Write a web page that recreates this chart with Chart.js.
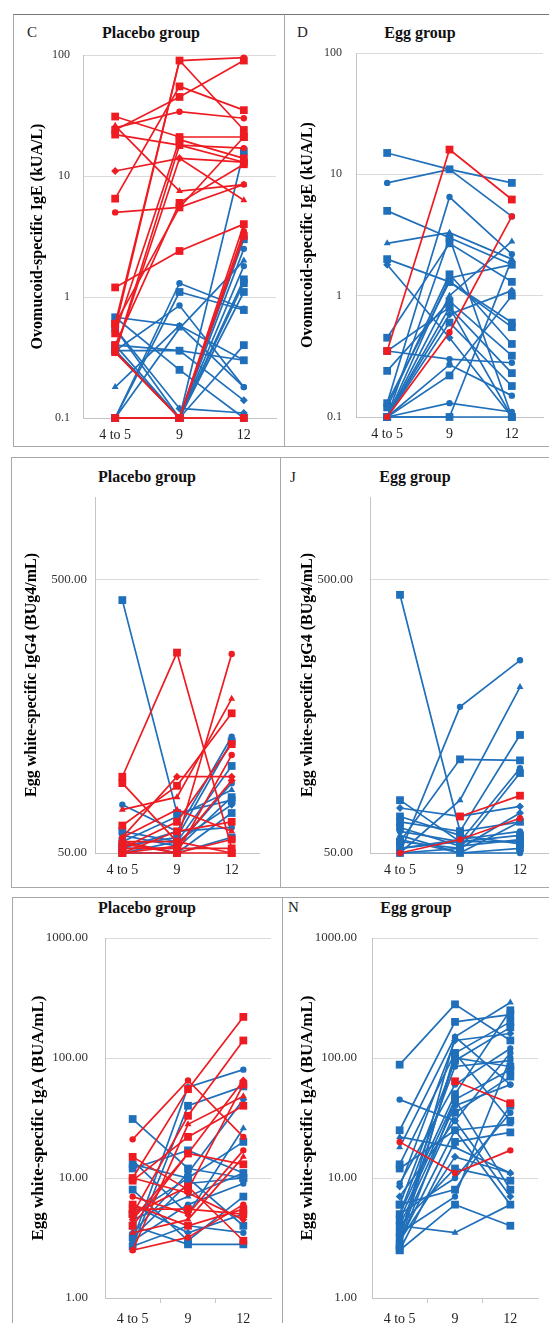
<!DOCTYPE html>
<html>
<head>
<meta charset="utf-8">
<script src="https://cdn.jsdelivr.net/npm/chart.js@4.4.1/dist/chart.umd.min.js"></script>
<style>
  body { margin: 0; width: 549px; height: 1323px; overflow: hidden; background: #fff; position: relative; font-family: 'Liberation Serif', serif; }
  .frame { position: absolute; border: 1.5px solid #a8a8a8; box-sizing: border-box; }
  .letter { position: absolute; font-size: 15px; color: #222; line-height: 1; }
  .ttl { position: absolute; font-size: 16px; font-weight: bold; color: #111; line-height: 1; transform: translateX(-50%); white-space: nowrap; }
  canvas { position: absolute; }
</style>
</head>
<body>

<!-- frames -->
<div class="frame" style="left:13px;top:14px;width:272px;height:433px;border-top-color:#777"></div>
<div class="frame" style="left:284px;top:14px;width:280px;height:433px;border-top-color:#777"></div>
<div class="frame" style="left:11px;top:457px;width:270px;height:431px"></div>
<div class="frame" style="left:280px;top:457px;width:290px;height:431px"></div>
<div class="frame" style="left:12px;top:897px;width:271px;height:500px"></div>
<div class="frame" style="left:282px;top:897px;width:290px;height:500px"></div>

<!-- panel letters and titles -->
<div class="letter" style="left:27px;top:25px">C</div>
<div class="ttl" style="left:151px;top:25px">Placebo group</div>
<div class="letter" style="left:297px;top:25px">D</div>
<div class="ttl" style="left:420px;top:25px">Egg group</div>

<div class="ttl" style="left:147px;top:469px">Placebo group</div>
<div class="letter" style="left:290px;top:470px">J</div>
<div class="ttl" style="left:415px;top:469px">Egg group</div>

<div class="ttl" style="left:147px;top:900px">Placebo group</div>
<div class="letter" style="left:288px;top:900px">N</div>
<div class="ttl" style="left:416px;top:900px">Egg group</div>

<!-- plot top = canvas top + 26 -->
<canvas id="chartC" width="270" height="416" style="left:14px;top:29px"></canvas>
<canvas id="chartD" width="264" height="418" style="left:285px;top:27px"></canvas>
<canvas id="chartI" width="268" height="414" style="left:12px;top:471px"></canvas>
<canvas id="chartJ" width="270" height="414" style="left:281px;top:471px"></canvas>
<canvas id="chartM" width="269" height="411" style="left:13px;top:912px"></canvas>
<canvas id="chartN" width="266" height="411" style="left:283px;top:912px"></canvas>

<script>
// x categories (age, years)
const categories = ['4 to 5', '9', '12'];

// y tick values / labels
const igeTicks = [0.1, 1, 10, 100];
const igeTickLabels = ['0.1', '1', '10', '100'];
const igg4Ticks = [50, 500];
const igg4TickLabels = ['50.00', '500.00'];
const igaTicks = [1, 10, 100, 1000];
const igaTickLabels = ['1.00', '10.00', '100.00', '1000.00'];

// one row = one child: [4 to 5, 9, 12]
// Ovomucoid-specific IgE, placebo group
const igePlaceboRed = [
  [31, 21, 21], [25, 34, 30], [22, 18, 13], [26, 7.5, 8.5], [24, 45, 90],
  [11, 14, 13], [6.5, 55, 35], [5, 5.5, 8.5], [1.2, 2.4, 4], [0.55, 90, 95],
  [0.6, 90, 24], [0.35, 14, 6.3], [0.4, 6, 12.5], [0.35, 0.1, 0.1], [0.1, 0.1, 0.1],
  [0.35, 18, 17], [0.5, 20, 14], [0.1, 0.1, 3.5], [0.35, 0.1, 3.2], [0.1, 0.1, 4],
  [0.6, 5.5, 21]
];
const igePlaceboBlue = [
  [0.36, 0.1, 16], [0.1, 1.3, 0.8], [0.1, 1.1, 0.78], [0.18, 0.58, 0.3], [0.68, 0.25, 0.1],
  [0.55, 0.12, 0.11], [0.36, 0.36, 0.3], [0.36, 0.85, 0.18], [0.4, 0.1, 3], [0.36, 0.1, 2.5],
  [0.1, 0.1, 1.4], [0.1, 0.55, 2], [0.36, 0.1, 1.1], [0.4, 0.36, 0.14], [0.1, 0.1, 0.4],
  [0.36, 0.1, 1.8], [0.55, 0.1, 1.3], [0.68, 0.58, 0.18]
];

// Ovomucoid-specific IgE, egg group
const igeEggRed = [[0.35, 16, 6.2], [0.1, 0.5, 4.5]];
const igeEggBlue = [
  [15, 11, 8.5], [8.5, 11, 4.5], [5, 3, 1.8], [2.7, 3.3, 2], [2, 1.3, 0.6],
  [1.8, 0.45, 0.1], [0.45, 2.7, 1.3], [0.35, 0.3, 0.28], [0.24, 0.9, 0.32], [0.13, 6.5, 2.2],
  [0.12, 1.5, 0.4], [0.1, 1.0, 2.8], [0.1, 0.8, 0.23], [0.1, 0.7, 1.1], [0.1, 0.6, 0.18],
  [0.1, 0.27, 0.15], [0.1, 0.22, 1.0], [0.1, 0.13, 0.11], [0.1, 0.1, 0.1], [0.1, 0.1, 2.0],
  [0.13, 1.3, 0.55], [0.1, 3, 0.1], [0.35, 0.8, 0.1], [0.1, 1.4, 1.8]
];

// Egg white-specific IgG4, placebo group
const igg4PlaceboRed = [
  [95, 270, 52], [55, 55, 267], [90, 55, 50], [72, 80, 183], [63, 88, 162],
  [57, 95, 95], [52, 65, 125], [55, 50, 114], [50, 60, 65], [52, 52, 52],
  [50, 50, 50], [57, 72, 60], [54, 50, 56], [50, 53, 92]
];
const igg4PlaceboBlue = [
  [420, 70, 78], [75, 60, 133], [60, 55, 104], [55, 68, 85], [52, 52, 80],
  [50, 55, 75], [55, 50, 70], [52, 60, 62], [50, 50, 57], [58, 53, 90],
  [53, 57, 128]
];

// Egg white-specific IgG4, egg group
const igg4EggRed = [[null, 68, 81], [50, 56, 67]];
const igg4EggBlue = [
  [439, 60, 65], [50, 171, 253], [55, 110, 109], [50, 78, 202], [78, 55, 55],
  [73, 68, 74], [65, 60, 135], [60, 55, 102], [55, 52, 98], [52, 56, 60],
  [50, 50, 52], [58, 50, 65], [52, 55, 58], [50, 52, 70], [62, 53, 56],
  [56, 50, 50], [68, 58, 54]
];

// Egg white-specific IgA, placebo group
const igaPlaceboRed = [
  [10, 55, 220], [21, 65, 22], [5, 33, 140], [2.5, 28, 48], [15, 8, 60],
  [4.5, 16, 65], [9.5, 22, 40], [7, 5, 17], [4, 16, 13], [2.5, 3.2, 6],
  [5, 8.5, 3], [3.5, 4.5, 15], [6, 4, 5.5], [10, 7.5, 4.5], [5.5, 5.5, 5]
];
const igaPlaceboBlue = [
  [31, 12, 10], [3, 57, 80], [2.7, 40, 58], [14, 5, 26], [12, 17, 11],
  [3.5, 11, 45], [4, 2.8, 2.8], [3, 6, 9], [5, 10, 4], [2.7, 4, 3.5],
  [8, 3, 7], [4.5, 7, 11], [3.2, 9, 10], [6, 3.5, 5], [13, 10, 20]
];

// Egg white-specific IgA, egg group
const igaEggRed = [[null, 64, 42], [20, 11, 17]];
const igaEggBlue = [
  [88, 280, 140], [45, 30, 110], [25, 200, 230], [18, 150, 290], [13, 110, 200],
  [8.5, 140, 160], [6, 95, 180], [5, 85, 95], [4.5, 45, 80], [4, 40, 60],
  [3.5, 35, 70], [3, 25, 28], [2.5, 20, 24], [3, 15, 11], [4, 12, 9.5],
  [5, 10, 35], [6, 8, 40], [3.5, 7, 100], [2.5, 6, 4], [4, 3.5, 6],
  [2.8, 45, 8], [7, 30, 7], [5, 50, 250], [3, 150, 60], [2.7, 110, 30],
  [9, 60, 120], [12, 25, 6], [22, 18, 11], [3.2, 100, 85]
];

const RED = '#ee1c22';
const BLUE = '#1f6fba';
const FONT = "'Liberation Serif', 'Times New Roman', serif";
const shapes = ['rect', 'circle', 'rect', 'triangle', 'rect', 'rectRot', 'rect', 'circle'];
const shapeRadius = { rect: 5.5, circle: 3.2, triangle: 4, rectRot: 4 };

function buildDatasets(rows, color) {
  return rows.map(function (vals, i) {
    var shape = shapes[i % shapes.length];
    return {
      data: vals.map(function (v, j) { return { x: j, y: v }; }),
      borderColor: color,
      backgroundColor: color,
      borderWidth: 1.7,
      tension: 0,
      pointStyle: shape,
      pointRadius: shapeRadius[shape],
      pointBorderWidth: 0,
      clip: false
    };
  });
}

function makePanel(id, c) {
  var xTickValues = c.boundaryTicks ? [0, 0.5, 1, 1.5, 2] : [0, 1, 2];
  new Chart(document.getElementById(id), {
    type: 'line',
    data: { datasets: buildDatasets(c.red, RED).concat(buildDatasets(c.blue, BLUE)) },
    options: {
      responsive: false,
      animation: false,
      layout: { autoPadding: false, padding: { top: 26, right: c.padRight, left: 0, bottom: 0 } },
      plugins: { legend: { display: false }, tooltip: { enabled: false } },
      scales: {
        x: {
          type: 'linear', min: -0.5, max: 2.5,
          afterBuildTicks: function (s) { s.ticks = xTickValues.map(function (v) { return { value: v }; }); },
          afterFit: function (s) { s.height = c.xH; },
          ticks: {
            autoSkip: false, maxRotation: 0, padding: c.xPad, color: '#222',
            font: { family: FONT, size: 14 },
            callback: function (v) { return Number.isInteger(v) ? categories[v] : ''; }
          },
          grid: {
            drawOnChartArea: false, drawTicks: !!c.boundaryTicks, tickLength: 5,
            color: function (ctx) { return ctx.tick && ctx.tick.value % 1 !== 0 ? '#c8c8c8' : 'rgba(0,0,0,0)'; }
          },
          border: { color: '#c4c4c4', width: 1 }
        },
        y: {
          type: 'logarithmic', min: c.min, max: c.max,
          afterBuildTicks: function (s) { s.ticks = c.ticks.map(function (v) { return { value: v }; }); },
          afterFit: function (s) { s.width = c.yW; },
          ticks: {
            padding: c.tickPad, color: '#333',
            font: { family: FONT, size: c.tickSize },
            callback: function (v, i) { return c.tickLabels[i]; }
          },
          grid: { color: '#dadada', drawTicks: false },
          border: { color: '#c4c4c4', width: 1 },
          title: {
            display: true, text: c.yTitle, color: '#000',
            font: { family: FONT, size: c.titleSize, weight: 'bold' },
            padding: { top: c.titlePad, bottom: 0 }
          }
        }
      }
    }
  });
}

makePanel('chartC', {
  red: igePlaceboRed, blue: igePlaceboBlue, ticks: igeTicks, tickLabels: igeTickLabels,
  min: 0.1, max: 100, yTitle: 'Ovomucoid-specific IgE (kUA/L)',
  yW: 69, xH: 27, padRight: 8, tickPad: 13, tickSize: 12, xPad: 9, titleSize: 16, titlePad: 14
});
makePanel('chartD', {
  red: igeEggRed, blue: igeEggBlue, ticks: igeTicks, tickLabels: igeTickLabels,
  min: 0.1, max: 100, yTitle: 'Ovomucoid-specific IgE (kUA/L)',
  yW: 71, xH: 28, padRight: 6, tickPad: 14, tickSize: 12, xPad: 9, titleSize: 16, titlePad: 13
});
makePanel('chartI', {
  red: igg4PlaceboRed, blue: igg4PlaceboBlue, ticks: igg4Ticks, tickLabels: igg4TickLabels,
  min: 50, max: 1000, yTitle: 'Egg white-specific IgG4 (BUg4/mL)',
  yW: 83, xH: 32, padRight: 21, tickPad: 8, tickSize: 13, xPad: 9, titleSize: 16, titlePad: 10
});
makePanel('chartJ', {
  red: igg4EggRed, blue: igg4EggBlue, ticks: igg4Ticks, tickLabels: igg4TickLabels,
  min: 50, max: 1000, yTitle: 'Egg white-specific IgG4 (BUg4/mL)',
  yW: 89, xH: 32, padRight: 1, tickPad: 17, tickSize: 13, xPad: 9, titleSize: 16, titlePad: 17
});
makePanel('chartM', {
  red: igaPlaceboRed, blue: igaPlaceboBlue, ticks: igaTicks, tickLabels: igaTickLabels,
  min: 1, max: 1000, yTitle: 'Egg white-specific IgA (BUA/mL)',
  yW: 92, xH: 25, padRight: 11, tickPad: 17, tickSize: 13, xPad: 8, titleSize: 17, titlePad: 15, boundaryTicks: true
});
makePanel('chartN', {
  red: igaEggRed, blue: igaEggBlue, ticks: igaTicks, tickLabels: igaTickLabels,
  min: 1, max: 1000, yTitle: 'Egg white-specific IgA (BUA/mL)',
  yW: 89, xH: 25, padRight: 11, tickPad: 15, tickSize: 13, xPad: 8, titleSize: 17, titlePad: 14, boundaryTicks: true
});
</script>
</body>
</html>
